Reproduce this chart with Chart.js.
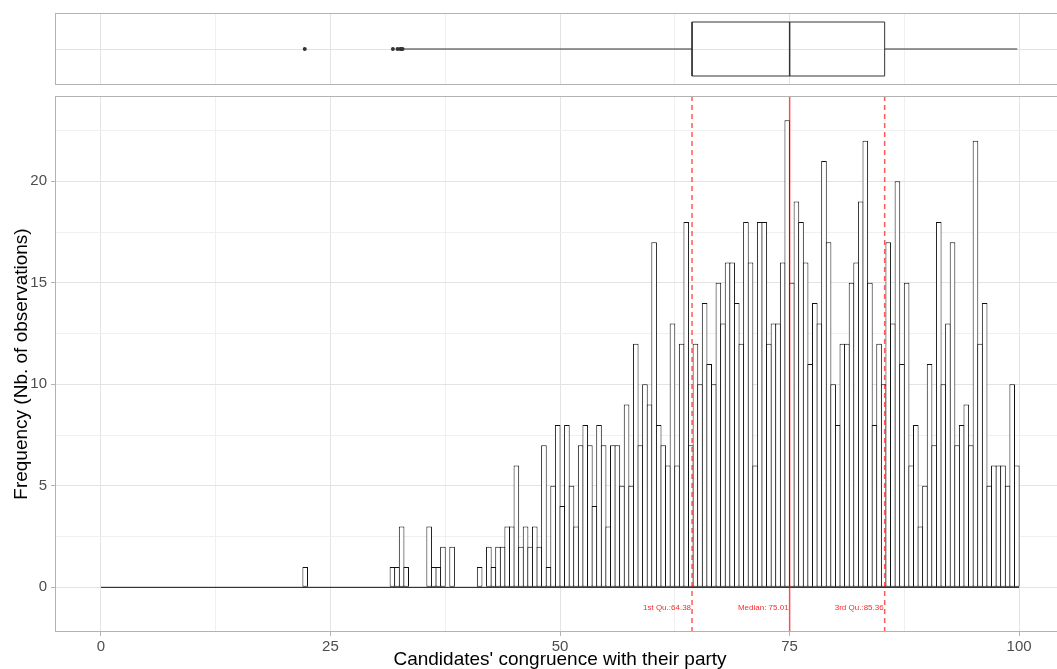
<!DOCTYPE html>
<html>
<head>
<meta charset="utf-8">
<title>Candidates' congruence with their party</title>
<script src="https://cdn.jsdelivr.net/npm/chart.js@4.4.0/dist/chart.umd.min.js"></script>
<style>
  html, body { margin: 0; padding: 0; background: #fff; overflow: hidden; }
  #wrap { position: relative; width: 1057px; height: 669px; overflow: hidden; }
  canvas { position: absolute; left: 0; top: 0; }
</style>
</head>
<body>
<div id="wrap">
  <canvas id="chart" width="1100" height="669"></canvas>
  <canvas id="box" width="1100" height="92"></canvas>
</div>
<script>
// histogram bins, 0 to 100 in steps of 0.5
const binStart = 0;
const binWidth = 0.5;
const counts = [
  0, 0, 0, 0, 0, 0, 0, 0, 0, 0, 0, 0, 0, 0, 0, 0, 0, 0, 0, 0,
  0, 0, 0, 0, 0, 0, 0, 0, 0, 0, 0, 0, 0, 0, 0, 0, 0, 0, 0, 0,
  0, 0, 0, 0, 1, 0, 0, 0, 0, 0, 0, 0, 0, 0, 0, 0, 0, 0, 0, 0,
  0, 0, 0, 1, 1, 3, 1, 0, 0, 0, 0, 3, 1, 1, 2, 0, 2, 0, 0, 0,
  0, 0, 1, 0, 2, 1, 2, 2, 3, 3, 6, 2, 3, 2, 3, 2, 7, 1, 5, 8,
  4, 8, 5, 3, 7, 8, 7, 4, 8, 7, 3, 7, 7, 5, 9, 5, 12, 7, 10, 9,
  17, 8, 7, 6, 13, 6, 12, 18, 7, 12, 10, 14, 11, 10, 15, 13, 16, 16, 14, 12,
  18, 16, 6, 18, 18, 12, 13, 13, 16, 23, 15, 19, 18, 16, 11, 14, 13, 21, 17, 10,
  8, 12, 12, 15, 16, 19, 22, 15, 8, 12, 10, 17, 13, 20, 11, 15, 6, 8, 3, 5,
  11, 7, 18, 10, 13, 17, 7, 8, 9, 7, 22, 12, 14, 5, 6, 6, 6, 5, 10, 6
];

// summary stats (boxplot + red lines)
const quartiles = [64.38, 75.01, 85.36];
const quartileLabels = ['1st Qu.:64.38', 'Median: 75.01', '3rd Qu.:85.36'];
const whiskers = [32.95, 99.8];
const outliers = [22.2, 31.8, 32.3, 32.6, 32.7, 32.85];

// tick labels
const xTicks = [0, 25, 50, 75, 100];
const yTicks = [0, 5, 10, 15, 20];

const xMin = -5, xMax = 105;
const yMin = -2.2, yMax = 24.2;
const labelY = -1;
const boxHalf = 0.75;
const font = '"Liberation Sans", Arial, sans-serif';

const bars = counts.map((c, i) => ({ x: binStart + binWidth * (i + 0.5), y: c }));
const binEnd = binStart + binWidth * counts.length;

function gridColor(c, majors) {
    if (!c.tick) return 'rgba(0,0,0,0)';
    return majors.includes(c.tick.value) ? '#e3e3e3' : '#f0f0f0';
}

function tickColor(c, majors) {
    if (!c.tick) return 'rgba(0,0,0,0)';
    return majors.includes(c.tick.value) ? '#b3b3b3' : 'rgba(0,0,0,0)';
}

// grey frame round each panel
const panelBorder = {
    id: 'panelBorder',
    afterDraw(chart) {
        const { ctx, chartArea: a } = chart;
        ctx.save();
        ctx.strokeStyle = '#b3b3b3';
        ctx.lineWidth = 1;
        ctx.strokeRect(a.left + 0.5, a.top + 0.5, a.width - 1, a.height - 1);
        ctx.restore();
    }
};

// small red labels next to quartile lines
const quartileText = {
    id: 'quartileText',
    afterDatasetsDraw(chart) {
        const { ctx, scales: { x, y } } = chart;
        ctx.save();
        ctx.font = '8px ' + font;
        ctx.fillStyle = '#ff2a2a';
        ctx.textAlign = 'right';
        ctx.textBaseline = 'middle';
        quartiles.forEach((q, i) => {
            ctx.fillText(quartileLabels[i], x.getPixelForValue(q) - 1, y.getPixelForValue(labelY));
        });
        ctx.restore();
    }
};

const quartileLines = quartiles.map((q, i) => ({
    type: 'line',
    data: [{ x: q, y: yMin }, { x: q, y: yMax }],
    borderColor: 'rgba(255,0,0,0.65)',
    borderWidth: 1.5,
    borderDash: i === 1 ? [] : [5, 4],
    pointRadius: 0,
    order: 0
}));

// histogram
new Chart(document.getElementById('chart'), {
    type: 'bar',
    data: {
        datasets: [
            ...quartileLines,
            {
                type: 'bar',
                data: bars,
                backgroundColor: '#ffffff',
                borderColor: '#111',
                borderWidth: 1,
                borderSkipped: false,
                barPercentage: 1.22,
                categoryPercentage: 1,
                order: 1
            },
            {
                type: 'line',
                data: [{ x: binStart, y: 0 }, { x: binEnd, y: 0 }],
                borderColor: '#111',
                borderWidth: 1,
                pointRadius: 0,
                order: 2
            }
        ]
    },
    options: {
        responsive: false,
        animation: false,
        layout: { padding: { top: 96, right: 35, left: 0, bottom: 0 } },
        plugins: { legend: { display: false }, tooltip: { enabled: false } },
        scales: {
            x: {
                type: 'linear',
                min: xMin,
                max: xMax,
                offset: false,
                afterFit: s => { s.height = 37; },
                border: { display: false },
                grid: {
                    offset: false,
                    color: c => gridColor(c, xTicks),
                    tickColor: c => tickColor(c, xTicks),
                    tickLength: 4
                },
                ticks: {
                    stepSize: 12.5,
                    includeBounds: false,
                    autoSkip: false,
                    maxRotation: 0,
                    padding: 2,
                    color: '#4d4d4d',
                    font: { family: font, size: 15 },
                    callback: v => xTicks.includes(v) ? v : ''
                },
                title: {
                    display: true,
                    text: "Candidates' congruence with their party",
                    color: '#000',
                    font: { family: font, size: 19, lineHeight: 1 },
                    padding: { top: 0, bottom: 0 }
                }
            },
            y: {
                min: yMin,
                max: yMax,
                afterFit: s => { s.width = 55; },
                border: { display: false },
                grid: {
                    color: c => gridColor(c, yTicks),
                    tickColor: c => tickColor(c, yTicks),
                    tickLength: 4
                },
                ticks: {
                    stepSize: 2.5,
                    includeBounds: false,
                    padding: 4,
                    color: '#4d4d4d',
                    font: { family: font, size: 15 },
                    callback: v => yTicks.includes(v) ? v : ''
                },
                title: {
                    display: true,
                    text: 'Frequency (Nb. of observations)',
                    color: '#000',
                    font: { family: font, size: 19, lineHeight: 1 },
                    padding: { top: 12, bottom: 0 }
                }
            }
        }
    },
    plugins: [panelBorder, quartileText]
});

// boxplot on top
const boxShape = [
    { x: quartiles[0], y: -boxHalf }, { x: quartiles[2], y: -boxHalf },
    { x: quartiles[2], y: boxHalf }, { x: quartiles[0], y: boxHalf },
    { x: quartiles[0], y: -boxHalf }
];
const lineStyle = { showLine: true, pointRadius: 0, borderColor: '#333', borderWidth: 1 };

new Chart(document.getElementById('box'), {
    type: 'scatter',
    data: {
        datasets: [
            { ...lineStyle, data: [{ x: whiskers[0], y: 0 }, { x: quartiles[0], y: 0 }] },
            { ...lineStyle, data: [{ x: quartiles[2], y: 0 }, { x: whiskers[1], y: 0 }] },
            { ...lineStyle, data: boxShape },
            { ...lineStyle, borderWidth: 1.5, data: [{ x: quartiles[1], y: -boxHalf }, { x: quartiles[1], y: boxHalf }] },
            {
                data: outliers.map(v => ({ x: v, y: 0 })),
                pointRadius: 2,
                backgroundColor: '#333',
                borderWidth: 0
            }
        ]
    },
    options: {
        responsive: false,
        animation: false,
        layout: { padding: { top: 13, right: 35, left: 0, bottom: 0 } },
        plugins: { legend: { display: false }, tooltip: { enabled: false } },
        scales: {
            x: {
                type: 'linear',
                min: xMin,
                max: xMax,
                afterFit: s => { s.height = 7; },
                border: { display: false },
                grid: { color: c => gridColor(c, xTicks), drawTicks: false },
                ticks: { display: false, stepSize: 12.5, includeBounds: false }
            },
            y: {
                min: -1,
                max: 1,
                afterFit: s => { s.width = 55; },
                border: { display: false },
                grid: { color: c => (c.tick && c.tick.value === 0) ? '#e3e3e3' : 'rgba(0,0,0,0)', drawTicks: false },
                ticks: { display: false, stepSize: 1, includeBounds: false }
            }
        }
    },
    plugins: [panelBorder]
});
</script>
</body>
</html>
